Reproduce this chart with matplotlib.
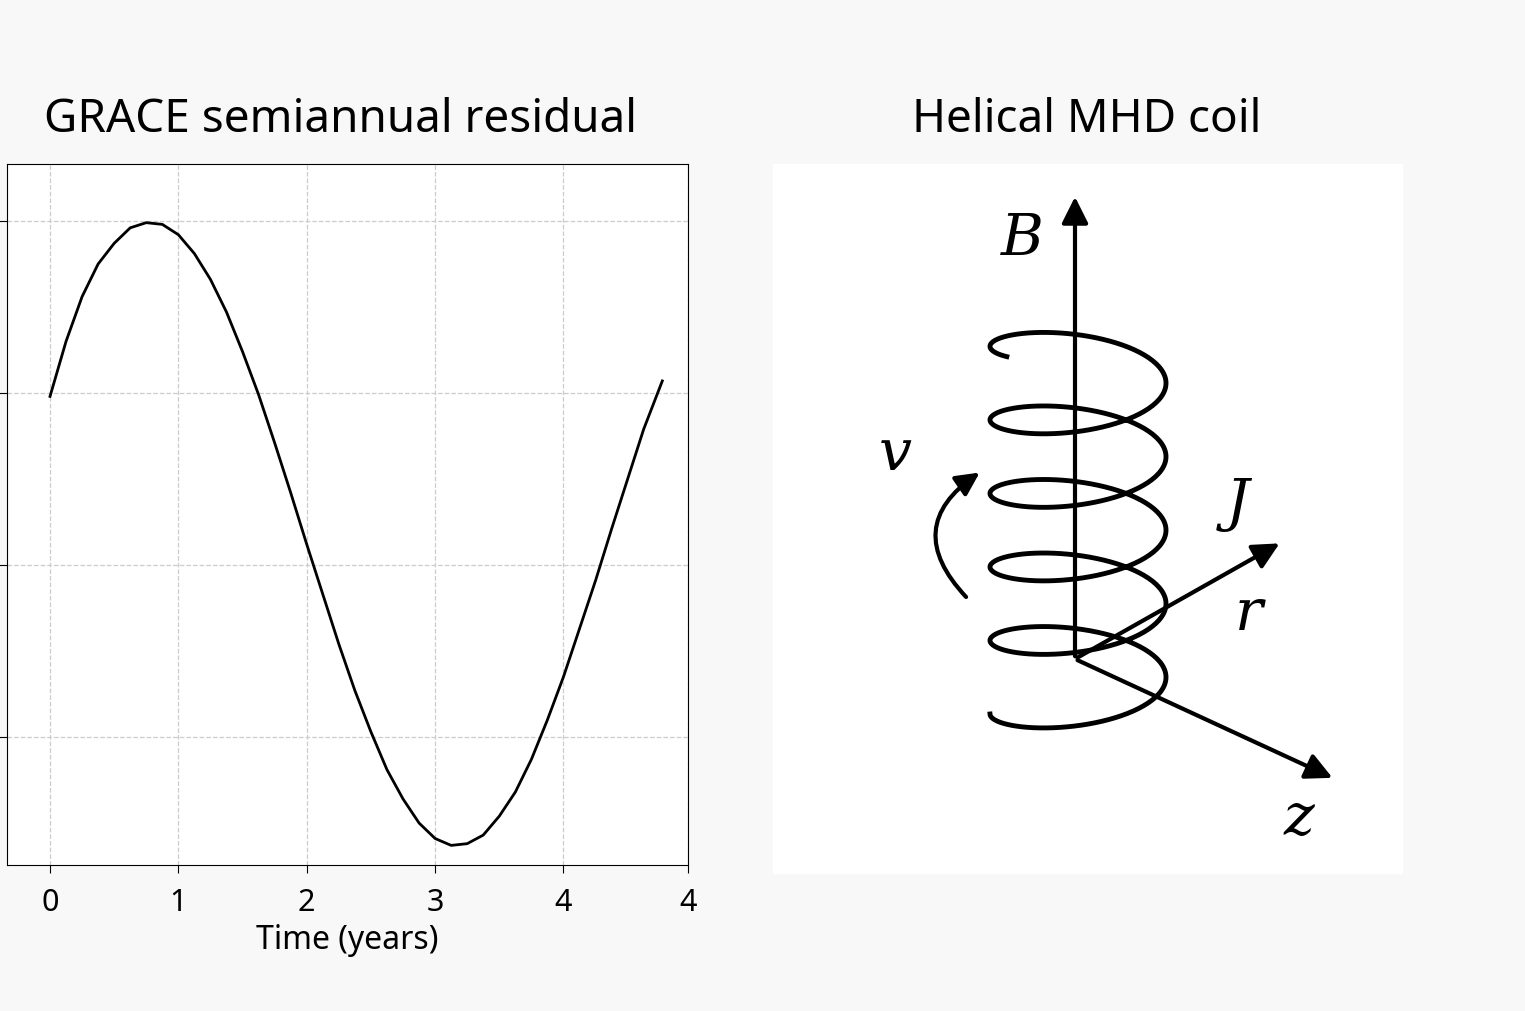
import numpy as np
import matplotlib
matplotlib.use("Agg")
from matplotlib import pyplot as plt
from matplotlib.patches import FancyArrowPatch

plt.rcParams['font.family'] = ['Noto Sans', 'DejaVu Sans']
plt.rcParams['mathtext.fontset'] = 'dejavuserif'

# residual curve
years = [0, 0.125, 0.25, 0.375, 0.5, 0.625, 0.75, 0.875, 1.0, 1.125, 1.25,
         1.375, 1.5, 1.625, 1.75, 1.875, 2.0, 2.125, 2.25, 2.375, 2.5,
         2.625, 2.75, 2.875, 3.0, 3.125, 3.25, 3.375, 3.5, 3.625, 3.75,
         3.875, 4.0, 4.125, 4.25, 4.375, 4.5, 4.625, 4.77]
resid = [1.98, 2.30, 2.56, 2.75, 2.87, 2.96, 2.99, 2.98, 2.92, 2.81, 2.66,
         2.47, 2.24, 1.99, 1.71, 1.42, 1.12, 0.83, 0.54, 0.27, 0.03,
         -0.19, -0.36, -0.50, -0.59, -0.63, -0.62, -0.57, -0.46, -0.32, -0.13,
         0.10, 0.35, 0.63, 0.91, 1.21, 1.50, 1.79, 2.07]
xtick_pos = [0, 1, 2, 3, 4, 4.97]
xtick_lab = ["0", "1", "2", "3", "4", "4"]
ytick_pos = [0, 1, 2, 3]

fig = plt.figure(figsize=(15.25, 10.12), dpi=100)
fig.patch.set_facecolor('#f8f8f8')
W, H = 1525, 1012

ax = fig.add_axes([7 / W, 1 - 866 / H, 681 / W, 701 / H])
ax.plot(years, resid, color='black', lw=2)
ax.set_xlim(-0.335, 4.97)
ax.set_ylim(-0.744, 3.331)
ax.set_xticks(xtick_pos, xtick_lab, fontsize=22)
ax.set_yticks(ytick_pos, [""] * 4)
ax.grid(True, ls='--', color='#cccccc', lw=0.9)
ax.set_xlabel("Time (years)", fontsize=23, labelpad=4)
ax.tick_params(length=6, pad=10)
fig.text(340 / W, 1 - 120 / H, "GRACE semiannual residual", fontsize=33,
         ha='center', va='center')

# helical coil diagram, in pixel units of the panel
ax2 = fig.add_axes([773 / W, 1 - 875 / H, 630 / W, 710 / H])
ax2.set_xlim(773, 1403)
ax2.set_ylim(875, 165)
ax2.axis('off')
ax2.add_patch(plt.Rectangle((773, 165), 630, 710, color='white', zorder=0))
fig.text(1087 / W, 1 - 120 / H, "Helical MHD coil", fontsize=33,
         ha='center', va='center')

cx, rx, ry = 1078, 88, 30
turns = 5.1
phi = np.linspace(-np.pi / 2, -np.pi / 2 + 2 * np.pi * turns, 800)
yc = np.linspace(715, 340, phi.size)
ax2.plot(cx + rx * np.sin(phi), yc + ry * np.cos(phi), color='black', lw=3.5)

origin = (1075, 660)
arrows = {'B': (1075, 195), 'z': (1335, 780), 'r': (1282, 543)}
for name, tip in arrows.items():
    ax2.add_patch(FancyArrowPatch(origin, tip, arrowstyle='-|>',
                                  mutation_scale=40, lw=3, color='black'))
ax2.add_patch(FancyArrowPatch((968, 600), (982, 472),
                              connectionstyle='arc3,rad=-0.6',
                              arrowstyle='-|>', mutation_scale=35, lw=3,
                              color='black'))
labels = {'B': (1022, 240), 'v': (895, 455), 'J': (1235, 505),
          'r': (1250, 615), 'z': (1300, 820)}
for name, (lx, ly) in labels.items():
    ax2.text(lx, ly, f"${name}$", fontsize=42, ha='center', va='center')

fig.savefig("out.png", dpi=100, facecolor=fig.get_facecolor())
